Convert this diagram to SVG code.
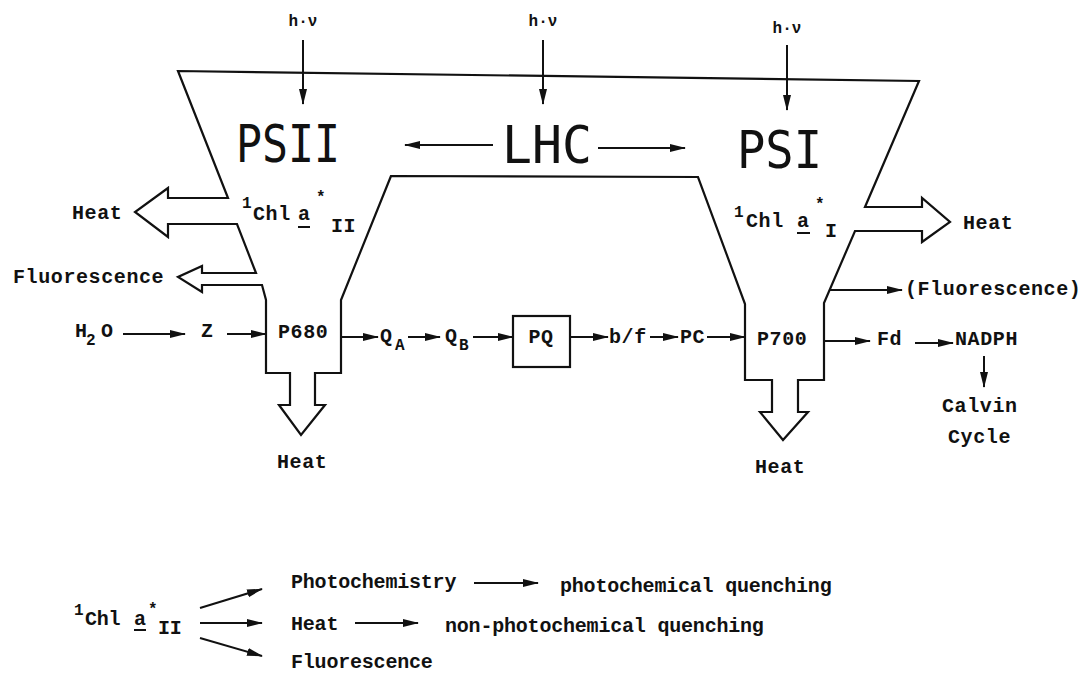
<svg xmlns="http://www.w3.org/2000/svg" width="1088" height="673" viewBox="0 0 1088 673">
<style>
.ln{fill:none;stroke:#111;stroke-width:2.2;stroke-linejoin:miter}
.ar{fill:none;stroke:#111;stroke-width:2}
.t{font-family:"Liberation Mono",monospace;font-weight:bold;font-size:20px;letter-spacing:0.6px;fill:#111}
.b{font-family:"Liberation Mono",monospace;font-weight:bold;font-size:20px;letter-spacing:-0.2px;fill:#111}
.s{font-family:"Liberation Mono",monospace;font-weight:bold;font-size:16px;fill:#111}
.big{font-family:"DejaVu Sans Mono",monospace;font-size:51px;fill:#111}
.ul{stroke:#111;stroke-width:2}
</style>
<defs>
<marker id="ah" viewBox="0 0 16 10" refX="15" refY="5" markerWidth="16" markerHeight="10" markerUnits="userSpaceOnUse" orient="auto">
<path d="M0,1 L16,5 L0,9 Z" fill="#111"/>
</marker>
</defs>
<rect width="1088" height="673" fill="#ffffff"/>

<g id="membrane">
<path class="ln" d="M391,176 L341,300 L341,373 L315,373 L315,405 L325,405 L301,435 L279,405 L290,405 L290,373 L266,373 L266,300 L262,285 L202,285 L202,292 L178,277 L202,266 L202,273 L256,273 L237,224 L168,224 L168,237 L135,212 L168,188 L168,198 L228,198 L178,71 L919,81 L865,207 L922,207 L922,198 L950,222 L922,242 L922,231 L855,231 L824,303 L824,380 L798,380 L798,412 L808,412 L783,440 L760,412 L772,412 L772,380 L745,380 L745,304 L698,177 Z"/>
</g>

<g id="labels-top">
<text class="s" x="303" y="26" text-anchor="middle">h·ν</text>
<text class="s" x="543" y="26" text-anchor="middle">h·ν</text>
<text class="s" x="787" y="33" text-anchor="middle">h·ν</text>
</g>

<g id="PSII"><text class="big" x="236" y="162" textLength="104" lengthAdjust="spacingAndGlyphs">PSII</text></g>
<g id="LHC"><text class="big" x="502" y="163" textLength="90" lengthAdjust="spacingAndGlyphs">LHC</text></g>
<g id="PSI"><text class="big" x="737" y="168" textLength="85" lengthAdjust="spacingAndGlyphs">PSI</text></g>

<g id="chl-II">
<text class="s" x="242" y="208">1</text>
<text class="t" x="253" y="220">Chl</text>
<text class="t" x="298" y="220">a</text>
<line class="ul" x1="298" y1="227" x2="310" y2="227"/>
<text class="s" x="316" y="202">*</text>
<text class="t" x="331" y="232">II</text>
</g>

<g id="chl-I">
<text class="s" x="734" y="217">1</text>
<text class="t" x="746" y="227">Chl</text>
<text class="t" x="797" y="227">a</text>
<line class="ul" x1="797" y1="233" x2="810" y2="233"/>
<text class="s" x="815" y="209">*</text>
<text class="t" x="825" y="237">I</text>
</g>

<g id="side-labels">
<text class="t" x="72" y="219">Heat</text>
<text class="t" x="13" y="283">Fluorescence</text>
<text class="t" x="963" y="229">Heat</text>
<text class="t" x="905" y="295">(Fluorescence)</text>
<text class="t" x="277" y="468">Heat</text>
<text class="t" x="755" y="473">Heat</text>
</g>

<g id="chain">
<text class="t" x="75" y="337">H</text>
<text class="s" x="86" y="345">2</text>
<text class="t" x="101" y="337">O</text>
<text class="t" x="201" y="337">Z</text>
<text class="t" x="278" y="338">P680</text>
<text class="t" x="380" y="342">Q</text>
<text class="s" x="395" y="350">A</text>
<text class="t" x="445" y="342">Q</text>
<text class="s" x="459" y="350">B</text>
<g id="PQ"><rect x="513" y="316" width="57" height="51" fill="none" stroke="#111" stroke-width="2.2"/>
<text class="t" x="541" y="343" text-anchor="middle">PQ</text></g>
<text class="t" x="609" y="343">b/f</text>
<text class="t" x="680" y="343">PC</text>
<text class="t" x="757" y="345">P700</text>
<text class="t" x="877" y="345">Fd</text>
<text class="t" x="955" y="345">NADPH</text>
<text class="t" x="942" y="412">Calvin</text>
<text class="t" x="948" y="443">Cycle</text>
</g>

<g id="summary">
<text class="s" x="74" y="615">1</text>
<text class="b" x="85" y="625">Chl</text>
<text class="b" x="134" y="625">a</text>
<line class="ul" x1="134" y1="630" x2="146" y2="630"/>
<text class="s" x="148" y="614">*</text>
<text class="b" x="158" y="634">II</text>
<text class="b" x="291" y="588">Photochemistry</text>
<text class="b" x="560" y="592">photochemical quenching</text>
<text class="b" x="291" y="630">Heat</text>
<text class="b" x="445" y="632">non-photochemical quenching</text>
<text class="b" x="291" y="668">Fluorescence</text>
</g>

<g id="connectors">
<line class="ar" x1="303" y1="40" x2="303" y2="104" marker-end="url(#ah)"/>
<line class="ar" x1="543" y1="40" x2="543" y2="104" marker-end="url(#ah)"/>
<line class="ar" x1="787" y1="45" x2="787" y2="110" marker-end="url(#ah)"/>
<line class="ar" x1="493" y1="145" x2="405" y2="145" marker-end="url(#ah)"/>
<line class="ar" x1="598" y1="148" x2="685" y2="148" marker-end="url(#ah)"/>
<line class="ar" x1="123" y1="334" x2="185" y2="334" marker-end="url(#ah)"/>
<line class="ar" x1="227" y1="334" x2="266" y2="334" marker-end="url(#ah)"/>
<line class="ar" x1="341" y1="337" x2="378" y2="337" marker-end="url(#ah)"/>
<line class="ar" x1="408" y1="337" x2="440" y2="337" marker-end="url(#ah)"/>
<line class="ar" x1="473" y1="337" x2="513" y2="337" marker-end="url(#ah)"/>
<line class="ar" x1="570" y1="337" x2="608" y2="337" marker-end="url(#ah)"/>
<line class="ar" x1="650" y1="337" x2="678" y2="337" marker-end="url(#ah)"/>
<line class="ar" x1="707" y1="337" x2="745" y2="337" marker-end="url(#ah)"/>
<line class="ar" x1="824" y1="341" x2="870" y2="341" marker-end="url(#ah)"/>
<line class="ar" x1="915" y1="343" x2="953" y2="343" marker-end="url(#ah)"/>
<line class="ar" x1="830" y1="290" x2="902" y2="290" marker-end="url(#ah)"/>
<line class="ar" x1="984" y1="356" x2="984" y2="387" marker-end="url(#ah)"/>
<line class="ar" x1="200" y1="608" x2="262" y2="589" marker-end="url(#ah)"/>
<line class="ar" x1="200" y1="623" x2="262" y2="623" marker-end="url(#ah)"/>
<line class="ar" x1="200" y1="638" x2="262" y2="656" marker-end="url(#ah)"/>
<line class="ar" x1="474" y1="583" x2="538" y2="583" marker-end="url(#ah)"/>
<line class="ar" x1="355" y1="623" x2="418" y2="623" marker-end="url(#ah)"/>
</g>
</svg>
